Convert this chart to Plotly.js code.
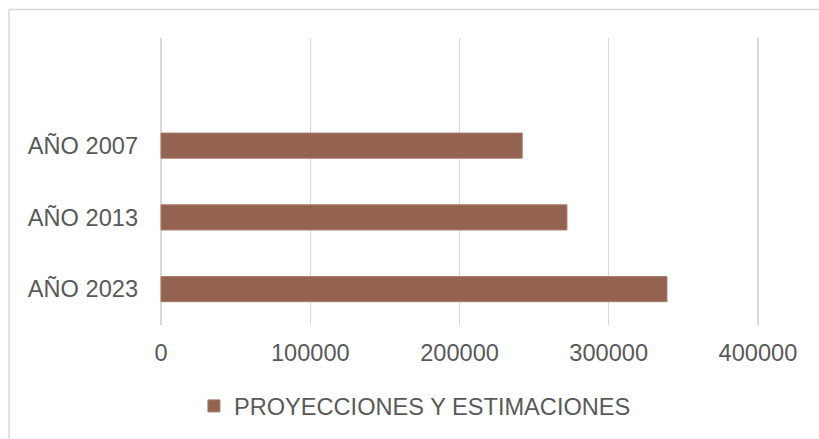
<!DOCTYPE html>
<html>
<head>
<meta charset="utf-8">
<script src="https://cdn.plot.ly/plotly-3.0.1.min.js"></script>
<style>
html,body{margin:0;padding:0;background:#fff;}
#chart{width:819px;height:439px;}
</style>
</head>
<body>
<div id="chart"></div>
<script>
const categories = ["AÑO 2023", "AÑO 2013", "AÑO 2007"];
const seriesName = "PROYECCIONES Y ESTIMACIONES";
const values = [339000, 272000, 242000];
const xTicks = [0, 100000, 200000, 300000, 400000];
const xTickLabels = ["0", "100000", "200000", "300000", "400000"];

const font = "Liberation Sans, Arial, sans-serif";
const fontSize = 23.6;
const textColor = "#595959";
const gridColor = "#d9d9d9";

const trace = {
  type: "bar",
  orientation: "h",
  name: seriesName,
  y: categories,
  x: values,
  width: 0.35,
  marker: {color: "#946251", line: {color: "#a9796a", width: 1}},
  showlegend: true,
  hoverinfo: "x+y"
};

const layout = {
  width: 819,
  height: 439,
  margin: {l: 160, r: 60, t: 38, b: 113, pad: 0},
  paper_bgcolor: "#ffffff",
  plot_bgcolor: "#ffffff",
  font: {family: font, size: fontSize, color: textColor},
  xaxis: {
    range: [-700, 400700],
    tickvals: xTicks,
    ticktext: xTickLabels,
    showgrid: true,
    gridcolor: gridColor,
    gridwidth: 1.5,
    zeroline: true,
    zerolinecolor: gridColor,
    zerolinewidth: 1.5,
    showline: false,
    ticks: "",
    ticklabelstandoff: 11,
    tickfont: {family: font, size: fontSize, color: textColor},
    fixedrange: true
  },
  yaxis: {
    type: "category",
    categoryorder: "array",
    categoryarray: categories,
    range: [-0.5, 3.5],
    showgrid: false,
    zeroline: false,
    showline: false,
    ticks: "",
    ticklabelstandoff: 21,
    tickfont: {family: font, size: fontSize, color: textColor},
    fixedrange: true
  },
  showlegend: true,
  legend: {
    orientation: "h",
    x: 0.4256,
    xanchor: "center",
    y: -0.278,
    yanchor: "middle",
    font: {family: font, size: fontSize, color: textColor},
    bgcolor: "rgba(0,0,0,0)",
    itemwidth: 30
  },
  shapes: [
    {type: "line", xref: "paper", yref: "paper", x0: -0.252, x1: 1.2, y0: 1.0995, y1: 1.0995,
     line: {color: gridColor, width: 1.5}},
    {type: "line", xref: "paper", yref: "paper", x0: -0.252, x1: -0.252, y0: 1.0995, y1: -0.45,
     line: {color: gridColor, width: 1.5}}
  ]
};

Plotly.newPlot("chart", [trace], layout, {displayModeBar: false, staticPlot: true});
</script>
</body>
</html>
